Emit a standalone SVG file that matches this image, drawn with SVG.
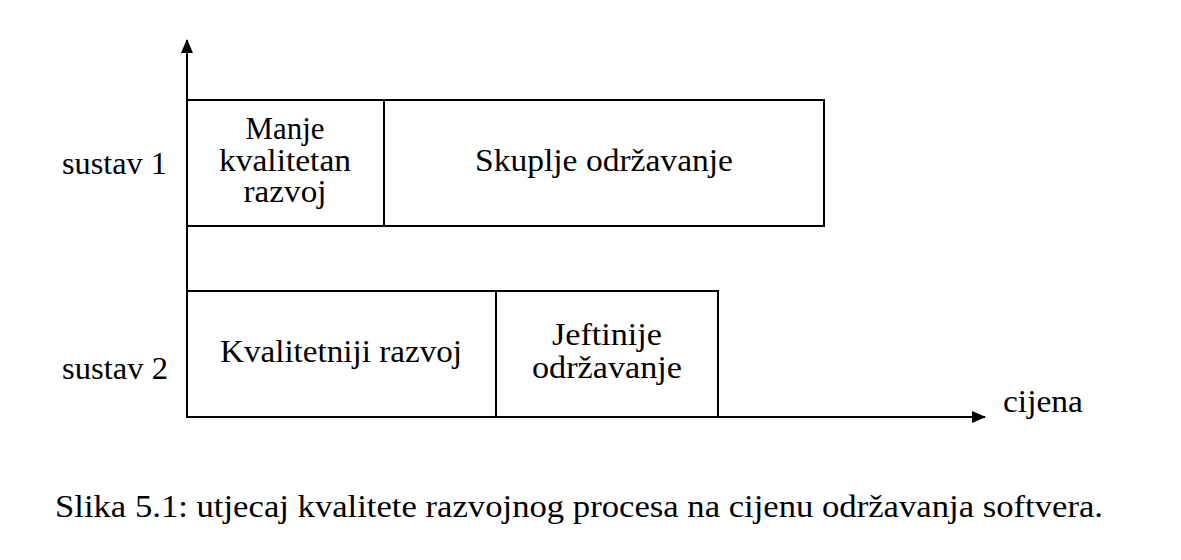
<svg xmlns="http://www.w3.org/2000/svg" width="1181" height="560" viewBox="0 0 1181 560">
<style>
text { font-family: "Liberation Serif", "Times New Roman", serif; font-size: 31px; fill: #000; }
.c { text-anchor: middle; }
.box { fill: #fff; stroke: #000; stroke-width: 2; }
.axis { fill: none; stroke: #000; stroke-width: 2; }
</style>
<defs>
<marker id="arr" markerWidth="14" markerHeight="12" refX="13" refY="6" orient="auto" markerUnits="userSpaceOnUse">
<path d="M0,0 L14,6 L0,12 Z" fill="#000"/>
</marker>
</defs>
<rect width="1181" height="560" fill="#fff"/>
<g id="connectors">
<line class="axis" x1="187" y1="418" x2="187" y2="40" marker-end="url(#arr)"/>
<line class="axis" x1="186" y1="417" x2="985" y2="417" marker-end="url(#arr)"/>
</g>
<g id="s1-dev">
<rect class="box" x="187" y="100" width="197" height="126"/>
<text class="c" x="285" y="139" textLength="79" lengthAdjust="spacingAndGlyphs">Manje</text>
<text class="c" x="285" y="171" textLength="132" lengthAdjust="spacingAndGlyphs">kvalitetan</text>
<text class="c" x="285" y="202" textLength="83" lengthAdjust="spacingAndGlyphs">razvoj</text>
</g>
<g id="s1-maint">
<rect class="box" x="384" y="100" width="440" height="126"/>
<text class="c" x="604" y="171" textLength="258" lengthAdjust="spacingAndGlyphs">Skuplje održavanje</text>
</g>
<g id="s2-dev">
<rect class="box" x="187" y="291" width="309" height="126"/>
<text class="c" x="341" y="362" textLength="242" lengthAdjust="spacingAndGlyphs">Kvalitetniji razvoj</text>
</g>
<g id="s2-maint">
<rect class="box" x="496" y="291" width="222" height="126"/>
<text class="c" x="607" y="345" textLength="110" lengthAdjust="spacingAndGlyphs">Jeftinije</text>
<text class="c" x="607" y="378" textLength="150" lengthAdjust="spacingAndGlyphs">održavanje</text>
</g>
<g id="labels">
<text x="62" y="174" textLength="105" lengthAdjust="spacingAndGlyphs">sustav 1</text>
<text x="62" y="379" textLength="106" lengthAdjust="spacingAndGlyphs">sustav 2</text>
<text x="1003" y="412" textLength="80" lengthAdjust="spacingAndGlyphs">cijena</text>
<text x="55" y="517" textLength="1048" lengthAdjust="spacingAndGlyphs">Slika 5.1: utjecaj kvalitete razvojnog procesa na cijenu održavanja softvera.</text>
</g>
</svg>
